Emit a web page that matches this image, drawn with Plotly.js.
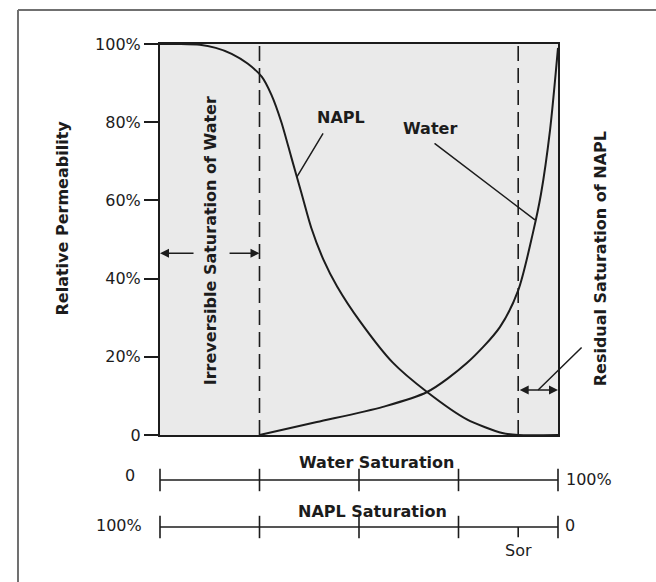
<!DOCTYPE html>
<html>
<head>
<meta charset="utf-8">
<script src="https://cdn.plot.ly/plotly-3.0.1.min.js"></script>
<style>
  html, body { margin: 0; padding: 0; background: #fff; }
  #chart { width: 656px; height: 582px; }
</style>
</head>
<body>
<div id="chart"></div>
<script>
// ---- data (water saturation %, relative permeability %) ----
const naplSw = [0, 5, 10, 14, 18, 22, 25.6, 28, 30.5, 33, 35.5, 38, 41, 44.5, 50.3, 58.5, 67.1, 77.1, 86, 90, 100];
const naplKr = [100, 100, 99.8, 99, 97.5, 95, 91.6, 87, 80, 71, 62, 53, 45, 38, 29, 18.5, 11, 4, 0.5, 0, 0];
const waterSw = [25, 39.4, 56, 67.1, 77.1, 85.4, 90, 93.7, 95.7, 98, 100];
const waterKr = [0, 3.3, 7.2, 11, 18.4, 27.6, 37, 51.7, 61.5, 78, 99];

const irreducibleSw = 25;          // irreversible saturation of water (% water)
const residualNapl = 10;           // Sor (% NAPL)
const yTickVals = [0, 20, 40, 60, 80, 100];
const yTickText = ['0', '20%', '40%', '60%', '80%', '100%'];
const waterScaleTicks = [0, 25, 50, 75, 100];
const naplScaleTicks = [100, 75, 50, 25, 0];

const FONT = 'DejaVu Sans, Liberation Sans, Arial, sans-serif';
const INK = '#1c1c1c';
const sorX = 100 - residualNapl;

const traces = [
  // vertical dashed limits
  { x: [irreducibleSw, irreducibleSw], y: [0, 100], mode: 'lines',
    line: { color: INK, width: 1.6, dash: '15px,7px' }, xaxis: 'x', yaxis: 'y' },
  { x: [sorX, sorX], y: [0, 100], mode: 'lines',
    line: { color: INK, width: 1.6, dash: '15px,7px' }, xaxis: 'x', yaxis: 'y' },
  // NAPL curve
  { x: naplSw, y: naplKr, mode: 'lines', line: { color: INK, width: 2, shape: 'spline', smoothing: 0.7 },
    xaxis: 'x', yaxis: 'y' },
  // Water curve
  { x: waterSw, y: waterKr, mode: 'lines', line: { color: INK, width: 2, shape: 'spline', smoothing: 0.8 },
    xaxis: 'x', yaxis: 'y' },
  // Water saturation scale
  { x: [waterScaleTicks[0], waterScaleTicks[waterScaleTicks.length - 1]], y: [1, 1], mode: 'lines',
    line: { color: INK, width: 1.6 }, xaxis: 'x2', yaxis: 'y2' },
  { x: waterScaleTicks, y: waterScaleTicks.map(() => 1), mode: 'markers', cliponaxis: false,
    marker: { symbol: 'line-ns', size: 16, line: { color: INK, width: 1.6 } }, xaxis: 'x2', yaxis: 'y2' },
  // NAPL saturation scale
  { x: [100 - naplScaleTicks[0], 100 - naplScaleTicks[naplScaleTicks.length - 1]], y: [0, 0], mode: 'lines',
    line: { color: INK, width: 1.6 }, xaxis: 'x2', yaxis: 'y2' },
  { x: naplScaleTicks.map(v => 100 - v), y: naplScaleTicks.map(() => 0), mode: 'markers', cliponaxis: false,
    marker: { symbol: 'line-ns', size: 16, line: { color: INK, width: 1.6 } }, xaxis: 'x2', yaxis: 'y2' },
  { x: [sorX, sorX], y: [0, -0.22], mode: 'lines', line: { color: INK, width: 1.6 },
    xaxis: 'x2', yaxis: 'y2' }
];

const bold = { family: FONT, size: 16, color: INK, weight: 'bold' };
const reg = { family: FONT, size: 16, color: INK };

function arrow(x, y, ax, ay, opts) {
  return Object.assign({
    xref: 'x', yref: 'y', axref: 'x', ayref: 'y', x: x, y: y, ax: ax, ay: ay,
    text: '', showarrow: true, arrowhead: 2, arrowsize: 1.2, arrowwidth: 1.5, arrowcolor: INK, standoff: 0
  }, opts || {});
}

const annotations = [
  // axis title
  { xref: 'paper', yref: 'y', x: -0.246, y: 55.4, text: 'Relative Permeability', textangle: -90,
    showarrow: false, font: bold, xanchor: 'center', yanchor: 'middle' },
  // vertical labels
  { xref: 'x', yref: 'y', x: 12.6, y: 49.6, text: 'Irreversible Saturation of Water', textangle: -90,
    showarrow: false, font: bold },
  { xref: 'paper', yref: 'y', x: 1.136, y: 45.1, text: 'Residual Saturation of NAPL', textangle: -90,
    showarrow: false, font: bold },
  // curve labels
  { xref: 'x', yref: 'y', x: 45.5, y: 81.1, text: 'NAPL', showarrow: false, font: bold },
  { xref: 'x', yref: 'y', x: 67.8, y: 78.3, text: 'Water', showarrow: false, font: bold },
  // leader lines
  arrow(34.4, 66, 41.2, 77.5, { arrowhead: 0 }),
  arrow(94.2, 55, 68.6, 74.9, { arrowhead: 0 }),
  { xref: 'x', yref: 'y', x: 95, y: 11.5, axref: 'pixel', ayref: 'pixel', ax: 45, ay: -44,
    text: '', showarrow: true, arrowhead: 0, arrowwidth: 1.5, arrowcolor: INK, standoff: 0 },
  // dimension arrows
  arrow(0, 46.5, 8.8, 46.5),
  arrow(irreducibleSw, 46.5, 17.1, 46.5),
  arrow(100, 11.5, sorX, 11.5, { arrowside: 'end+start', startarrowhead: 2, startarrowsize: 1.2 }),
  // scale labels
  { xref: 'x2', yref: 'y2', x: 54.3, y: 1.38, text: 'Water Saturation', showarrow: false, font: bold },
  { xref: 'x2', yref: 'y2', x: 53.5, y: 0.34, text: 'NAPL Saturation', showarrow: false, font: bold },
  { xref: 'paper', yref: 'y2', x: -0.093, y: 1.1, text: '0', showarrow: false, font: reg },
  { xref: 'paper', yref: 'y2', x: 1.016, y: 1.0, text: '100%', showarrow: false, font: reg, xanchor: 'left' },
  { xref: 'paper', yref: 'y2', x: -0.04, y: 0.04, text: '100%', showarrow: false, font: reg, xanchor: 'right' },
  { xref: 'paper', yref: 'y2', x: 1.012, y: 0.04, text: '0', showarrow: false, font: reg, xanchor: 'left' },
  { xref: 'x2', yref: 'y2', x: sorX, y: -0.51, text: 'Sor', showarrow: false, font: reg }
];

const shapes = [
  // textured background of the plotting area
  { type: 'rect', xref: 'x', yref: 'y', x0: 0, x1: 100, y0: 0, y1: 100,
    fillcolor: '#eaeaea', line: { width: 0 }, layer: 'below' },
  // page frame (left + top)
  { type: 'line', xref: 'paper', yref: 'paper', x0: -0.3568, x1: -0.3568, y0: 1.067, y1: -0.06,
    line: { color: '#707070', width: 2 } },
  { type: 'line', xref: 'paper', yref: 'paper', x0: -0.3568, x1: 1.25, y0: 1.067, y1: 1.067,
    line: { color: '#707070', width: 2 } }
];

const layout = {
  width: 656, height: 582,
  margin: { l: 160, r: 98, t: 44, b: 30 },
  paper_bgcolor: '#ffffff', plot_bgcolor: 'rgba(0,0,0,0)',
  showlegend: false,
  font: reg,
  xaxis: { domain: [0, 1], range: [0, 100], anchor: 'y', showline: true, linewidth: 2, linecolor: INK,
           mirror: true, ticks: '', showticklabels: false, showgrid: false, zeroline: false, fixedrange: true },
  yaxis: { domain: [0.2303, 1], range: [0, 100], anchor: 'x', showline: true, linewidth: 2, linecolor: INK,
           mirror: true, ticks: 'outside', ticklen: 14, tickwidth: 2, tickcolor: INK,
           tickvals: yTickVals, ticktext: yTickText, tickfont: reg, showgrid: false, zeroline: false, fixedrange: true },
  xaxis2: { domain: [0, 1], range: [0, 100], anchor: 'y2', visible: false, fixedrange: true },
  yaxis2: { domain: [0, 0.2303], range: [-0.532, 1.957], anchor: 'x2', visible: false, fixedrange: true },
  annotations: annotations,
  shapes: shapes
};

Plotly.newPlot('chart', traces, layout, { staticPlot: true, displayModeBar: false });
</script>
</body>
</html>
